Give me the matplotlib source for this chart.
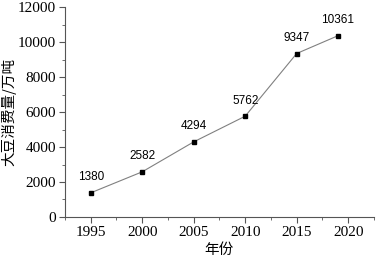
import matplotlib
matplotlib.use("Agg")
import matplotlib.pyplot as plt
from matplotlib.ticker import MultipleLocator

years = [1995, 2000, 2005, 2010, 2015, 2019]
values = [1380, 2582, 4294, 5762, 9347, 10361]
xticks = [1995, 2000, 2005, 2010, 2015, 2020]
yticks = [0, 2000, 4000, 6000, 8000, 10000, 12000]

fig = plt.figure(figsize=(3.8, 2.63), dpi=100)
ax = fig.add_axes([0.171, 0.175, 0.813, 0.798])
ax.plot(years, values, color="#808080", lw=0.8, marker="s", ms=3.5,
        mfc="black", mec="black")
for x, y in zip(years, values):
    ax.text(x, y + 550, str(y), ha="center", va="bottom", fontsize=8.5,
            family="Liberation Sans")
ax.set_xlim(1992.5, 2022.5)
ax.set_ylim(0, 12000)
ax.set_xticks(xticks)
ax.set_yticks(yticks)
ax.xaxis.set_minor_locator(MultipleLocator(2.5))
ax.yaxis.set_minor_locator(MultipleLocator(1000))
for s in ["top", "right"]:
    ax.spines[s].set_visible(False)
for s in ["left", "bottom"]:
    ax.spines[s].set_color("#555555")
    ax.spines[s].set_linewidth(0.8)
ax.tick_params(which="both", direction="out", colors="#555555", labelcolor="black")
ax.tick_params(which="major", length=4, labelsize=11, pad=2.5)
ax.tick_params(which="minor", length=2)
for lab in ax.get_xticklabels() + ax.get_yticklabels():
    lab.set_family("Liberation Serif")
ax.set_xlabel("年份", family=["Noto Sans CJK SC"], fontsize=10.5, labelpad=3)
ax.set_ylabel("大豆消费量/万吨", family=["Noto Sans CJK SC"], fontsize=10.5, labelpad=1)
fig.savefig("out.png", dpi=100)
